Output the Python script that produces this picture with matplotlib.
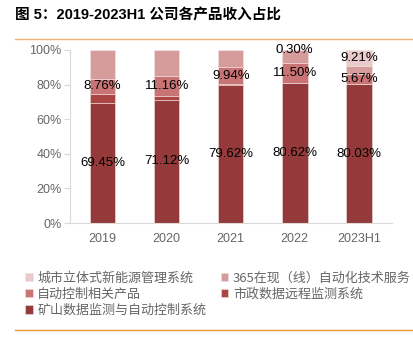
import matplotlib
matplotlib.use("Agg")
import matplotlib.pyplot as plt
from matplotlib.lines import Line2D

plt.rcParams['font.family'] = ['Liberation Sans', 'Noto Sans CJK SC', 'DejaVu Sans']

years = ['2019', '2020', '2021', '2022', '2023H1']
mine = [69.45, 71.12, 79.62, 80.62, 80.03]     # 矿山数据监测与自动控制系统
muni = [5.2, 2.4, 0.4, 0.5, 0.2]              # 市政数据远程监测系统
auto = [8.76, 11.16, 9.94, 11.50, 5.67]        # 自动控制相关产品
svc365 = [16.59, 15.32, 10.04, 7.08, 4.89]     # 365在现（线）自动化技术服务
city = [0, 0, 0, 0.30, 9.21]                   # 城市立体式新能源管理系统

names = ['矿山数据监测与自动控制系统', '市政数据远程监测系统', '自动控制相关产品',
         '365在现（线）自动化技术服务', '城市立体式新能源管理系统']
colors = ['#943A3A', '#AA4543', '#C97474', '#D69C9C', '#EACACA']
series = [mine, muni, auto, svc365, city]
show_label = [True, False, True, False, True]

fig = plt.figure(figsize=(4.14, 3.37), dpi=100)
ax = fig.add_axes([0.169, 0.338, 0.778, 0.514])

x = range(len(years))
bottom = [0] * len(years)
bars = []
for vals, col, nm, lab in zip(series, colors, names, show_label):
    b = ax.bar(x, vals, width=0.4, bottom=bottom, color=col, edgecolor='#F2E0E0',
               linewidth=0.4, label=nm)
    bars.append(b)
    if lab:
        for i, v in enumerate(vals):
            if v > 0:
                ax.text(i, bottom[i] + v / 2, f'{v:.2f}%', ha='center', va='center',
                        fontsize=9.5, color='black')
    bottom = [a + c for a, c in zip(bottom, vals)]

ax.set_xlim(-0.51, 4.52)
ax.set_ylim(0, 100)
ax.set_yticks(range(0, 101, 20))
ax.set_yticklabels([f'{t}%' for t in range(0, 101, 20)])
ax.set_xticks(list(x))
ax.set_xticklabels(years)
ax.tick_params(axis='y', length=4, color='#D9D9D9', labelcolor='#666666', labelsize=9, pad=2)
ax.tick_params(axis='x', length=0, labelcolor='#666666', labelsize=9, pad=7)
for s in ['top', 'right']:
    ax.spines[s].set_visible(False)
ax.spines['left'].set_color('#D9D9D9')
ax.spines['bottom'].set_color('#D9D9D9')

# legend is filled column by column, so reorder to get the reference's rows
order = [4, 2, 0, 3, 1]
fig.legend([bars[k] for k in order], [names[k] for k in order], loc='upper left',
           bbox_to_anchor=(0.06, 0.194), ncol=2, frameon=False,
           prop={'family': ['Noto Sans CJK SC'], 'size': 9.4}, labelcolor='#666666',
           handlelength=0.6, handleheight=0.6, handletextpad=0.35,
           labelspacing=0.25, columnspacing=1.1, borderpad=0, borderaxespad=0)

fig.text(0.036, 0.955, '图 5：2019-2023H1 公司各产品收入占比', fontsize=10.5,
         fontweight='bold', va='center', ha='left')
fig.add_artist(Line2D([0.036, 0.998], [1 - 39 / 337] * 2, color='#EDB675', lw=1))
fig.add_artist(Line2D([0.036, 0.998], [1 - 330 / 337] * 2, color='#E59A2F', lw=1))

fig.savefig('out.png', dpi=100)
